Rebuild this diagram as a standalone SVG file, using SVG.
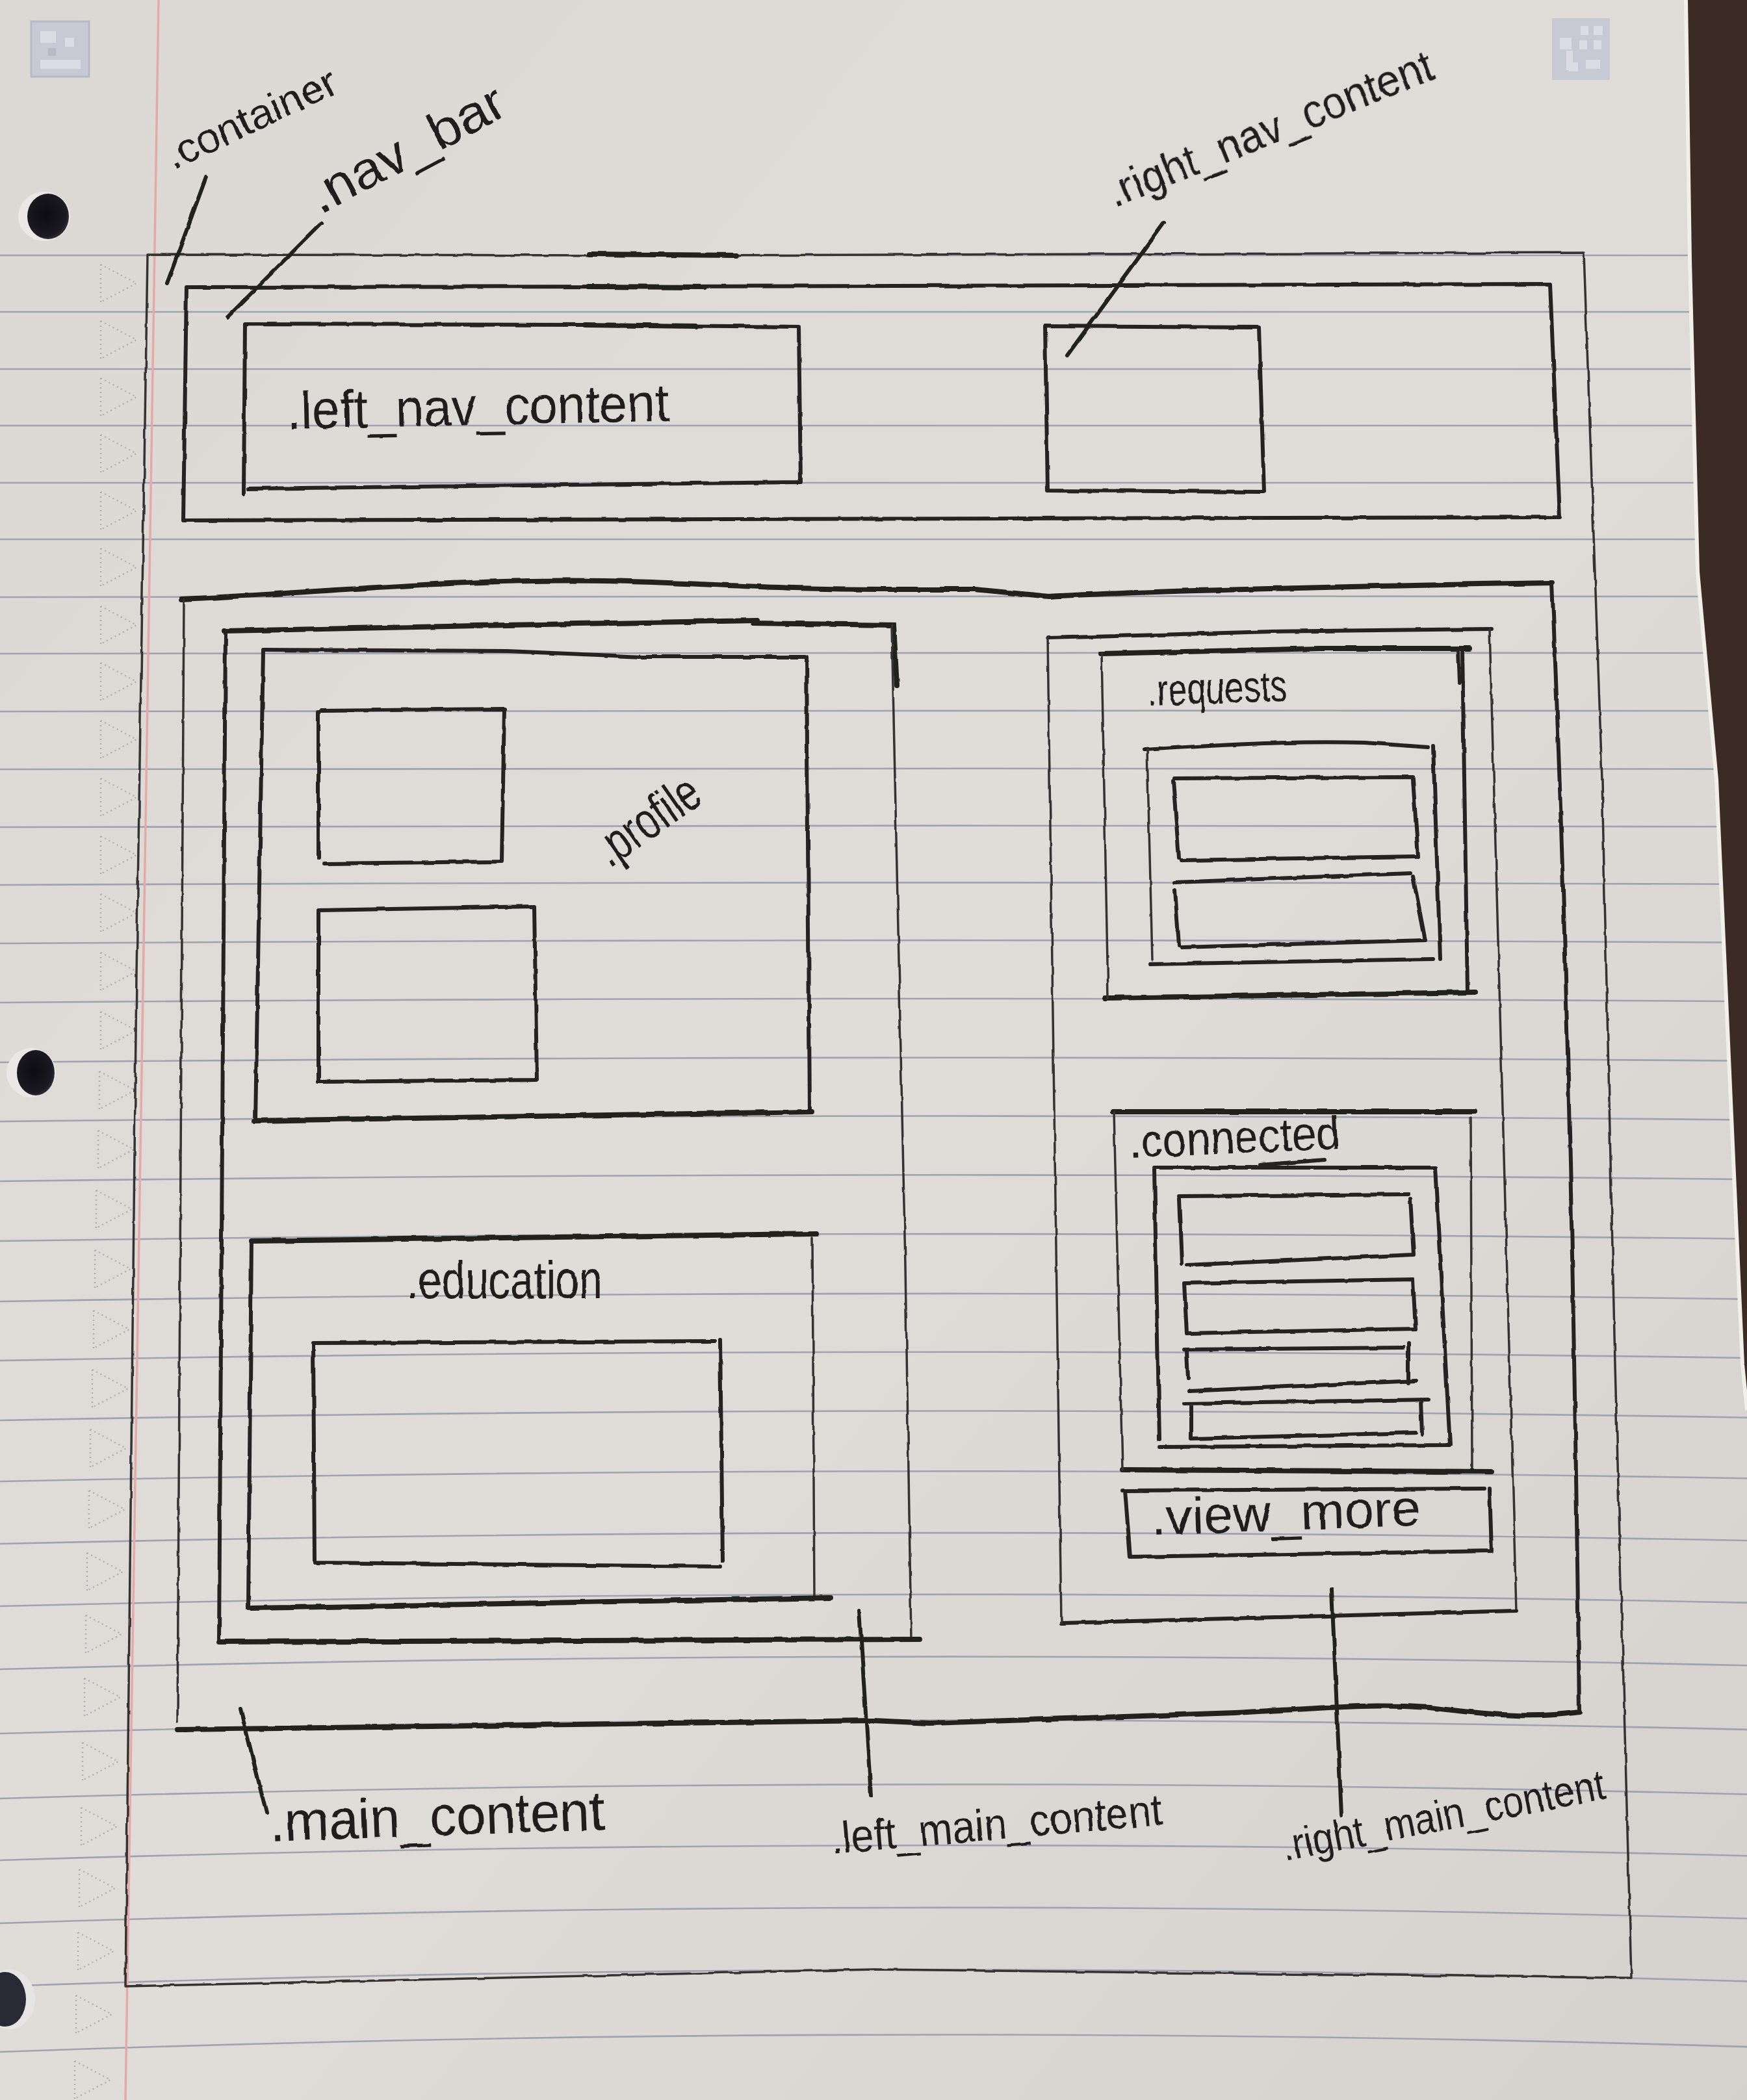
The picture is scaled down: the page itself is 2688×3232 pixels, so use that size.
<svg xmlns="http://www.w3.org/2000/svg" xmlns:xlink="http://www.w3.org/1999/xlink" width="2688" height="3232" viewBox="0 0 2688 3232">
  <defs>
    <linearGradient id="paper" x1="0" y1="0" x2="1" y2="1">
      <stop offset="0" stop-color="#dcd9d4"/>
      <stop offset="0.5" stop-color="#e0ddd8"/>
      <stop offset="1" stop-color="#d5d2cd"/>
    </linearGradient>
    <radialGradient id="holeFill" cx="0.45" cy="0.45" r="0.6">
      <stop offset="0" stop-color="#0c0b10"/>
      <stop offset="0.8" stop-color="#1b1a22"/>
      <stop offset="1" stop-color="#3a3942"/>
    </radialGradient>
    <filter id="rough" x="-5%" y="-5%" width="110%" height="110%">
      <feTurbulence type="fractalNoise" baseFrequency="0.035" numOctaves="2" seed="3" result="n"/>
      <feDisplacementMap in="SourceGraphic" in2="n" scale="4" xChannelSelector="R" yChannelSelector="G"/>
    </filter>
    <!-- margin triangle printed on the paper -->
    <path id="tri" d="M0,-29 L0,29 M0,-29 L55,0 L0,29"/>
    <style>
      .rule { fill:none; stroke:#9ea2b3; stroke-width:2.6; }
      .tri { fill:none; stroke:#aeaeb2; stroke-width:2.4; stroke-dasharray:2 5; }
      .pen { fill:none; stroke:#262321; stroke-width:6; stroke-linecap:round; stroke-linejoin:round; }
      .thin { fill:none; stroke:#353230; stroke-width:3.5; stroke-linecap:round; stroke-linejoin:round; }
      .heavy { fill:none; stroke:#23201e; stroke-width:8; stroke-linecap:round; }
      .lead { fill:none; stroke:#23201e; stroke-width:6; stroke-linecap:round; }
      .label { font-family:"Liberation Sans", Arial, sans-serif; fill:#221f1e; }
    </style>
  </defs>

  <!-- sheet of ruled paper -->
  <rect x="0" y="0" width="2688" height="3232" fill="url(#paper)"/>

  <g id="ruled_lines">
    <path class="rule" d="M0,393 Q1344,393 2688,393"/>
    <path class="rule" d="M0,480 Q1344,480 2688,480"/>
    <path class="rule" d="M0,568 Q1344,568 2688,568"/>
    <path class="rule" d="M0,655 Q1344,655 2688,655"/>
    <path class="rule" d="M0,743 Q1344,743 2688,743"/>
    <path class="rule" d="M0,830 Q1344,830 2688,830"/>
    <path class="rule" d="M0,919 Q1344,917 2688,918"/>
    <path class="rule" d="M0,1006 Q1344,1004 2688,1005"/>
    <path class="rule" d="M0,1095 Q1344,1093 2688,1094"/>
    <path class="rule" d="M0,1184 Q1344,1181.8 2688,1183.6"/>
    <path class="rule" d="M0,1273 Q1344,1268.6 2688,1272.3"/>
    <path class="rule" d="M0,1362 Q1344,1355.3 2688,1360.9"/>
    <path class="rule" d="M0,1452 Q1344,1443.1 2688,1450.6"/>
    <path class="rule" d="M0,1543 Q1344,1531.9 2688,1541.2"/>
    <path class="rule" d="M0,1635 Q1344,1621.7 2688,1632.8"/>
    <path class="rule" d="M0,1726 Q1344,1710.5 2688,1723.5"/>
    <path class="rule" d="M0,1818 Q1344,1800.2 2688,1815.1"/>
    <path class="rule" d="M0,1910 Q1344,1890 2688,1906.8"/>
    <path class="rule" d="M0,2003 Q1344,1980.8 2688,1999.4"/>
    <path class="rule" d="M0,2094 Q1344,2069.6 2688,2090"/>
    <path class="rule" d="M0,2186 Q1344,2159.4 2688,2181.7"/>
    <path class="rule" d="M0,2280 Q1344,2251.1 2688,2275.3"/>
    <path class="rule" d="M0,2376 Q1344,2344.9 2688,2371"/>
    <path class="rule" d="M0,2472 Q1344,2438.7 2688,2466.6"/>
    <path class="rule" d="M0,2569 Q1344,2533.5 2688,2563.2"/>
    <path class="rule" d="M0,2668 Q1344,2630.3 2688,2661.9"/>
    <path class="rule" d="M0,2768 Q1344,2728 2688,2761.5"/>
    <path class="rule" d="M0,2863 Q1344,2820.8 2688,2856.2"/>
    <path class="rule" d="M0,2960 Q1344,2915.6 2688,2952.8"/>
    <path class="rule" d="M0,3057 Q1344,3010.4 2688,3049.4"/>
    <path class="rule" d="M0,3158 Q1344,3109.2 2688,3150.1"/>
  </g>

  <!-- red margin rule -->
  <path d="M244,0 L193,3232" fill="none" stroke="#e4aaa8" stroke-width="3.5"/>

  <g id="margin_triangles" class="tri">
    <use xlink:href="#tri" x="155" y="436"/>
    <use xlink:href="#tri" x="155" y="523"/>
    <use xlink:href="#tri" x="155" y="611"/>
    <use xlink:href="#tri" x="155" y="698"/>
    <use xlink:href="#tri" x="155" y="786"/>
    <use xlink:href="#tri" x="155" y="873"/>
    <use xlink:href="#tri" x="155" y="962"/>
    <use xlink:href="#tri" x="155" y="1049"/>
    <use xlink:href="#tri" x="155" y="1138"/>
    <use xlink:href="#tri" x="155" y="1227"/>
    <use xlink:href="#tri" x="155" y="1316"/>
    <use xlink:href="#tri" x="155" y="1405"/>
    <use xlink:href="#tri" x="155" y="1495"/>
    <use xlink:href="#tri" x="155" y="1586"/>
    <use xlink:href="#tri" x="153" y="1678"/>
    <use xlink:href="#tri" x="151" y="1769"/>
    <use xlink:href="#tri" x="148" y="1861"/>
    <use xlink:href="#tri" x="146" y="1953"/>
    <use xlink:href="#tri" x="144" y="2046"/>
    <use xlink:href="#tri" x="142" y="2137"/>
    <use xlink:href="#tri" x="139" y="2229"/>
    <use xlink:href="#tri" x="137" y="2323"/>
    <use xlink:href="#tri" x="134" y="2419"/>
    <use xlink:href="#tri" x="132" y="2515"/>
    <use xlink:href="#tri" x="130" y="2612"/>
    <use xlink:href="#tri" x="127" y="2711"/>
    <use xlink:href="#tri" x="125" y="2811"/>
    <use xlink:href="#tri" x="122" y="2906"/>
    <use xlink:href="#tri" x="120" y="3003"/>
    <use xlink:href="#tri" x="117" y="3100"/>
    <use xlink:href="#tri" x="115" y="3201"/>
  </g>

  <!-- binder holes -->
  <g id="holes">
    <ellipse cx="68" cy="333" rx="40" ry="38" fill="#e9e8e4"/>
    <ellipse cx="74" cy="333" rx="32" ry="35" fill="url(#holeFill)"/>
    <ellipse cx="48" cy="1651" rx="38" ry="38" fill="#e9e8e4"/>
    <ellipse cx="55" cy="1651" rx="29" ry="35" fill="url(#holeFill)"/>
    <ellipse cx="14" cy="3077" rx="40" ry="46" fill="#e6e5e3"/>
    <ellipse cx="8" cy="3077" rx="32" ry="42" fill="#2a2a36"/>
  </g>

  <!-- printed corner marks -->
  <g id="corner_marks">
    <rect x="48" y="33" width="89" height="85" fill="#c7c9d5" stroke="#b7b9c8" stroke-width="3"/>
    <rect x="62" y="48" width="24" height="18" fill="#dcdde4"/>
    <rect x="100" y="58" width="14" height="14" fill="#dcdde4"/>
    <rect x="62" y="92" width="62" height="14" fill="#dcdde4"/>
    <rect x="74" y="74" width="12" height="12" fill="#b8bbca"/>
    <rect x="2388" y="28" width="89" height="95" fill="#c7c9d5"/>
    <rect x="2400" y="58" width="18" height="18" fill="#dcdde4"/>
    <rect x="2410" y="78" width="10" height="30" fill="#dcdde4"/>
    <rect x="2432" y="40" width="12" height="14" fill="#dcdde4"/>
    <rect x="2452" y="40" width="14" height="14" fill="#dcdde4"/>
    <rect x="2430" y="62" width="12" height="14" fill="#dcdde4"/>
    <rect x="2452" y="62" width="12" height="14" fill="#dcdde4"/>
    <rect x="2414" y="96" width="14" height="14" fill="#dcdde4"/>
    <rect x="2440" y="92" width="22" height="14" fill="#dcdde4"/>
  </g>

  <!-- desk showing past the paper edge -->
  <path d="M2594,0 L2688,0 L2688,2170 L2681,2100 L2641,1200 L2612,880 L2600,400 Z" fill="#3a2b24"/>
  <path d="M2594,0 L2600,400 L2612,880 L2641,1200 L2681,2100 L2688,2170" fill="none" stroke="#f1efe9" stroke-width="6"/>

  <g id="sketch" filter="url(#rough)">
    <g id="container">
      <path class="thin" d="M227,392 L1000,393 L2437,389 L2465,1200 L2485,2100 L2510,3044 L1344,3031 L193,3057 L210,1500 Z"/>
      <path class="heavy" d="M907,391 L1134,393"/>
      <text class="label" x="266" y="262" font-size="64" textLength="285" lengthAdjust="spacingAndGlyphs" transform="rotate(-25 266 262)">.container</text>
    </g>

    <g id="nav_bar">
      <path class="pen" d="M287,442 L1000,441 L2385,437 L2400,796 L282,801 Z"/>
      <path class="heavy" d="M904,441 L1084,442"/>
      <text class="label" x="493" y="330" font-size="80" textLength="330" lengthAdjust="spacingAndGlyphs" transform="rotate(-28 493 330)">.nav_bar</text>
    </g>

    <g id="left_nav_content">
      <path class="pen" d="M375,760 L377,499 L900,500 L1229,503 L1232,742 L382,752"/>
      <path class="heavy" d="M900,500 L1071,502"/>
      <text class="label" x="442" y="660" font-size="82" textLength="588" lengthAdjust="spacingAndGlyphs" transform="rotate(-1.2 442 660)">.left_nav_content</text>
    </g>

    <g id="right_nav_content">
      <path class="pen" d="M1608,502 L1937,504 L1945,757 L1612,755 Z"/>
      <text class="label" x="1715" y="320" font-size="70" textLength="535" lengthAdjust="spacingAndGlyphs" transform="rotate(-22 1715 320)">.right_nav_content</text>
    </g>

    <g id="main_content">
      <path class="heavy" d="M279,922 C500,912 700,890 930,894 C1100,898 1200,908 1380,907 L1500,907 L1614,918 C1800,908 2100,902 2388,897"/>
      <path class="pen" d="M2388,897 C2405,1300 2420,1800 2430,2635"/>
      <path class="heavy" d="M2430,2635 C2360,2645 2300,2640 2200,2628 C2100,2622 2050,2628 1900,2636 L1670,2644 L1430,2652 L1344,2648 L274,2662"/>
      <path class="thin" d="M283,922 L273,2650"/>
      <text class="label" x="416" y="2834" font-size="86" textLength="515" lengthAdjust="spacingAndGlyphs" transform="rotate(-2 416 2834)">.main_content</text>
    </g>

    <g id="left_main_content">
      <path class="heavy" d="M345,971 L780,962 L1165,955 M1160,959 L1375,962 L1380,1055"/>
      <path class="thin" d="M1372,962 C1385,1500 1395,2000 1402,2523"/>
      <path class="heavy" d="M1415,2523 L337,2527"/>
      <path class="pen" d="M347,971 L337,2527"/>
      <text class="label" x="1280" y="2853" font-size="68" textLength="512" lengthAdjust="spacingAndGlyphs" transform="rotate(-5 1280 2853)">.left_main_content</text>
    </g>

    <g id="profile">
      <path class="pen" d="M407,1000 L780,1002 L988,1011 L1241,1011 L1246,1711"/>
      <path class="heavy" d="M1249,1711 L391,1725"/>
      <path class="pen" d="M405,1000 L393,1725"/>
      <text class="label" x="938" y="1336" font-size="80" textLength="180" lengthAdjust="spacingAndGlyphs" transform="rotate(-35 938 1336)">.profile</text>
    </g>

    <g id="profile_photo">
      <path class="pen" d="M494,1094 L776,1091 L772,1326 L498,1329 M490,1096 L490,1320"/>
    </g>

    <g id="profile_details">
      <path class="pen" d="M490,1401 L822,1395 L826,1662 L490,1665 Z"/>
    </g>

    <g id="education">
      <path class="heavy" d="M387,1910 L1257,1899"/>
      <path class="thin" d="M1250,1905 L1253,2460"/>
      <path class="heavy" d="M1278,2459 L387,2475"/>
      <path class="pen" d="M387,1910 L382,2475"/>
      <text class="label" x="625" y="1998" font-size="82" textLength="302" lengthAdjust="spacingAndGlyphs">.education</text>
    </g>

    <g id="education_body">
      <path class="pen" d="M482,2067 L1100,2064 M1108,2062 L1112,2402 M1108,2411 L486,2405 M482,2067 L484,2405"/>
    </g>

    <g id="right_main_content">
      <path class="pen" d="M1612,982 L1955,972 L2295,968"/>
      <path class="thin" d="M2292,968 C2305,1500 2320,2000 2333,2480"/>
      <path class="pen" d="M2333,2479 L1633,2498"/>
      <path class="thin" d="M1612,982 L1633,2498"/>
      <text class="label" x="1977" y="2864" font-size="66" textLength="505" lengthAdjust="spacingAndGlyphs" transform="rotate(-11 1977 2864)">.right_main_content</text>
    </g>

    <g id="requests">
      <path class="heavy" d="M1693,1006 L2030,998 L2261,998"/>
      <path class="pen" d="M2243,1000 L2245,1050 M2250,1000 L2258,1527"/>
      <path class="heavy" d="M2269,1527 L1701,1536"/>
      <path class="thin" d="M1695,1006 L1705,1536"/>
      <text class="label" x="1766" y="1086" font-size="68" textLength="215" lengthAdjust="spacingAndGlyphs" transform="rotate(-2 1766 1086)">.requests</text>
    </g>

    <g id="requests_list">
      <path class="pen" d="M1761,1154 C1900,1145 2000,1140 2100,1143 L2197,1150 M2205,1148 L2216,1476 M2205,1476 L1769,1484"/>
      <path class="thin" d="M1765,1154 L1773,1478"/>
    </g>

    <g id="request_1">
      <path class="pen" d="M1807,1198 L2174,1196 M2174,1200 L2182,1318 M2178,1318 L1818,1324 M1805,1202 L1814,1320"/>
    </g>

    <g id="request_2">
      <path class="pen" d="M1807,1358 L2170,1344 M2174,1349 L2193,1447 M2193,1447 L1818,1458 M1808,1370 L1814,1455"/>
    </g>

    <g id="connected">
      <path class="heavy" d="M1712,1711 L2269,1711"/>
      <path class="thin" d="M2263,1720 L2265,2262"/>
      <path class="heavy" d="M2295,2265 L1727,2262"/>
      <path class="thin" d="M1714,1711 L1727,2262"/>
      <text class="label" x="1738" y="1782" font-size="72" textLength="325" lengthAdjust="spacingAndGlyphs" transform="rotate(-2.5 1738 1782)">.connected</text>
    </g>

    <g id="connected_list">
      <path class="pen" d="M1776,1797 L2208,1797 M1939,1793 L2038,1785 M2208,1797 L2231,2224 M2231,2224 L1784,2227 M1776,1800 L1784,2215"/>
    </g>

    <g id="connection_1">
      <path class="pen" d="M1814,1841 L2167,1838 M2170,1845 L2175,1931 M2174,1931 L1826,1947 M1814,1845 L1818,1945"/>
    </g>
    <g id="connection_2">
      <path class="pen" d="M1822,1975 L2174,1969 L2178,2045 L1826,2052 Z"/>
    </g>
    <g id="connection_3">
      <path class="pen" d="M1822,2077 L2159,2074 M2167,2068 L2167,2128 M2178,2125 L1830,2141 M1826,2080 L1828,2122"/>
    </g>
    <g id="connection_4">
      <path class="pen" d="M1822,2160 L2197,2154 M2186,2154 L2188,2208 M2178,2205 L1833,2214 M1833,2160 L1833,2214"/>
    </g>

    <g id="view_more">
      <path class="pen" d="M1727,2294 L2284,2291 M2292,2291 L2295,2387 M2295,2387 L1739,2396 M1731,2294 L1739,2396"/>
      <text class="label" x="1772" y="2362" font-size="78" textLength="415" lengthAdjust="spacingAndGlyphs" transform="rotate(-2 1772 2362)">.view_more</text>
    </g>

    <g id="connectors">
      <path class="lead" d="M317,273 L257,436"/>
      <path class="lead" d="M495,343 L350,488"/>
      <path class="lead" d="M1791,343 L1642,547"/>
      <path class="lead" d="M370,2630 L410,2790"/>
      <path class="lead" d="M1322,2478 L1340,2763"/>
      <path class="lead" d="M2049,2447 L2064,2794"/>
    </g>
  </g>
</svg>
